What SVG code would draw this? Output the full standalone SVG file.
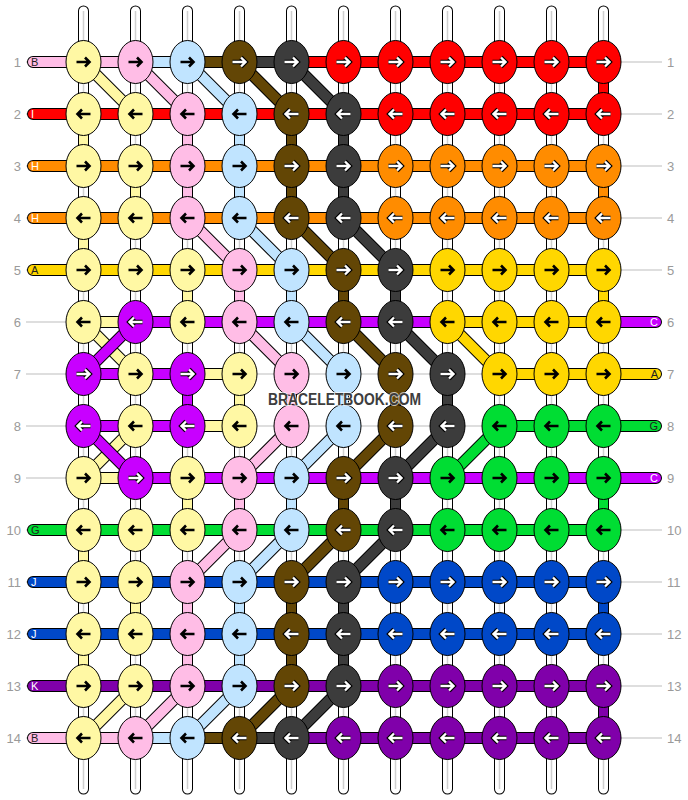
<svg xmlns="http://www.w3.org/2000/svg" width="688" height="800" viewBox="0 0 688 800">
<style>
.y{fill:#FFF8A4}.p{fill:#FFBDE6}.b{fill:#C0E4FF}.br{fill:#634605}.g{fill:#3C3C3C}.r{fill:#FF0000}.o{fill:#FF8C00}.d{fill:#FFD700}.u{fill:#C800FF}.n{fill:#00DD33}.l{fill:#0048C8}.k{fill:#8000AA}
.sy{stroke:#FFF8A4}.sp{stroke:#FFBDE6}.sb{stroke:#C0E4FF}.sbr{stroke:#634605}.sg{stroke:#3C3C3C}.sr{stroke:#FF0000}.so{stroke:#FF8C00}.sd{stroke:#FFD700}.su{stroke:#C800FF}.sn{stroke:#00DD33}.sl{stroke:#0048C8}.sk{stroke:#8000AA}
.ol{stroke:#000}
.h{stroke-width:10;stroke-linecap:round}.ho{stroke-width:12;stroke-linecap:round}
.v{stroke-width:9}.vo{stroke-width:11}
.dg{stroke-width:10}.dgo{stroke-width:12}
.num{font-family:"Liberation Sans",Arial,sans-serif;font-size:13px;fill:#9a9a9a}
.lt{font-family:"Liberation Sans",Arial,sans-serif;font-size:11px}
.dk{fill:#222}.wt{fill:#fff}
</style>
<defs>
<ellipse id="e" rx="17.5" ry="21.5" stroke="#000" stroke-width="1"/>
<path id="a" d="M-7,0H5.5M1.5,-4.5L6,0L1.5,4.5" fill="none"/>
<g id="rb"><use href="#a" stroke="#000" stroke-width="2.6"/></g>
<g id="lb"><use href="#rb" transform="scale(-1,1)"/></g>
<g id="rw"><use href="#a" stroke="#000" stroke-width="4.6"/><use href="#a" stroke="#fff" stroke-width="2.4"/></g>
<g id="lw"><use href="#rw" transform="scale(-1,1)"/></g>
<path id="cols" d="M83.5,11V789M135.5,11V789M187.5,11V789M239.5,11V789M291.5,11V789M343.5,11V789M395.5,11V789M447.5,11V789M499.5,11V789M551.5,11V789M603.5,11V789"/>
</defs>
<rect width="688" height="800" fill="#fff"/>
<g id="guides" stroke="#bdbdbd" stroke-width="1" fill="none">
<path d="M26,62H662M26,114H662M26,166H662M26,218H662M26,270H662M26,322H662M26,374H662M26,426H662M26,478H662M26,530H662M26,582H662M26,634H662M26,686H662M26,738H662"/>
</g>
<g id="strings" fill="none">
<use href="#cols" stroke="#000" stroke-width="11" stroke-linecap="round"/>
<use href="#cols" stroke="#fff" stroke-width="9" stroke-linecap="round"/>
<use href="#cols" stroke="#cfcfcf" stroke-width="1.5"/>
<path class="ol vo" d="M603.5,62V114M83.5,114V166M135.5,166V218M83.5,218V270M187.5,270V322M239.5,374V426M187.5,478V530M83.5,530V582M135.5,582V634M83.5,634V686M187.5,114V218M239.5,270V322M291.5,374V426M239.5,478V530M187.5,582V686M239.5,114V218M291.5,270V322M343.5,374V426M291.5,478V530M239.5,582V686M291.5,114V218M343.5,270V322M395.5,374V426M343.5,478V530M291.5,582V686M343.5,114V218M395.5,270V322M447.5,374V426M395.5,478V530M343.5,582V686M603.5,166V218M603.5,270V322M187.5,374V426M603.5,478V530M603.5,582V634M603.5,686V738"/>
<path class="sr v" d="M603.5,62V114"/>
<path class="sy v" d="M83.5,114V166M135.5,166V218M83.5,218V270M187.5,270V322M239.5,374V426M187.5,478V530M83.5,530V582M135.5,582V634M83.5,634V686"/>
<path class="sp v" d="M187.5,114V218M239.5,270V322M291.5,374V426M239.5,478V530M187.5,582V686"/>
<path class="sb v" d="M239.5,114V218M291.5,270V322M343.5,374V426M291.5,478V530M239.5,582V686"/>
<path class="sbr v" d="M291.5,114V218M343.5,270V322M395.5,374V426M343.5,478V530M291.5,582V686"/>
<path class="sg v" d="M343.5,114V218M395.5,270V322M447.5,374V426M395.5,478V530M343.5,582V686"/>
<path class="so v" d="M603.5,166V218"/>
<path class="sd v" d="M603.5,270V322"/>
<path class="su v" d="M187.5,374V426"/>
<path class="sn v" d="M603.5,478V530"/>
<path class="sl v" d="M603.5,582V634"/>
<path class="sk v" d="M603.5,686V738"/>
<path class="ol ho" d="M33,62H603.5M33,114H603.5M33,166H603.5M33,218H603.5M33,270H603.5M83.5,322H656M83.5,374H239.5M499.5,374H656M83.5,426H239.5M499.5,426H656M83.5,478H656M33,530H603.5M33,582H603.5M33,634H603.5M33,686H603.5M33,738H603.5"/>
<path class="sp h" d="M33,62H135.5M33,738H135.5"/>
<path class="sb h" d="M135.5,62H187.5M135.5,738H187.5"/>
<path class="sbr h" d="M187.5,62H239.5M187.5,738H239.5"/>
<path class="sg h" d="M239.5,62H291.5M239.5,738H291.5"/>
<path class="sr h" d="M291.5,62H603.5M33,114H603.5"/>
<path class="so h" d="M33,166H603.5M33,218H603.5"/>
<path class="sd h" d="M33,270H603.5M447.5,322H603.5M499.5,374H656"/>
<path class="sy h" d="M83.5,322H135.5M187.5,374H239.5M187.5,426H239.5M83.5,478H135.5"/>
<path class="su h" d="M135.5,322H447.5M603.5,322H656M83.5,374H187.5M83.5,426H187.5M135.5,478H656"/>
<path class="sn h" d="M499.5,426H656M33,530H603.5"/>
<path class="sl h" d="M33,582H603.5M33,634H603.5"/>
<path class="sk h" d="M33,686H603.5M291.5,738H603.5"/>
<path class="ol dgo" d="M83.5,62L135.5,114M135.5,686L83.5,738M135.5,62L187.5,114M187.5,218L239.5,270M239.5,322L291.5,374M291.5,426L239.5,478M239.5,530L187.5,582M187.5,686L135.5,738M187.5,62L239.5,114M239.5,218L291.5,270M291.5,322L343.5,374M343.5,426L291.5,478M291.5,530L239.5,582M239.5,686L187.5,738M239.5,62L291.5,114M291.5,218L343.5,270M343.5,322L395.5,374M395.5,426L343.5,478M343.5,530L291.5,582M291.5,686L239.5,738M291.5,62L343.5,114M343.5,218L395.5,270M395.5,322L447.5,374M447.5,426L395.5,478M395.5,530L343.5,582M343.5,686L291.5,738M447.5,322L499.5,374M499.5,426L447.5,478"/>
<path class="sy dg" d="M83.5,62L135.5,114M135.5,686L83.5,738"/>
<path class="sp dg" d="M135.5,62L187.5,114M187.5,218L239.5,270M239.5,322L291.5,374M291.5,426L239.5,478M239.5,530L187.5,582M187.5,686L135.5,738"/>
<path class="sb dg" d="M187.5,62L239.5,114M239.5,218L291.5,270M291.5,322L343.5,374M343.5,426L291.5,478M291.5,530L239.5,582M239.5,686L187.5,738"/>
<path class="sbr dg" d="M239.5,62L291.5,114M291.5,218L343.5,270M343.5,322L395.5,374M395.5,426L343.5,478M343.5,530L291.5,582M291.5,686L239.5,738"/>
<path class="sg dg" d="M291.5,62L343.5,114M343.5,218L395.5,270M395.5,322L447.5,374M447.5,426L395.5,478M395.5,530L343.5,582M343.5,686L291.5,738"/>
<path class="sd dg" d="M447.5,322L499.5,374"/>
<path class="sn dg" d="M499.5,426L447.5,478"/>
<path class="ol dgo" d="M83.5,322L135.5,374M135.5,426L83.5,478"/>
<path class="sy dg" d="M83.5,322L135.5,374M135.5,426L83.5,478"/>
<path class="ol dgo" d="M135.5,322L83.5,374M83.5,426L135.5,478"/>
<path class="su dg" d="M135.5,322L83.5,374M83.5,426L135.5,478"/>
</g>
<g id="knots">
<g id="k1-1" transform="translate(83.5,62)"><use href="#e" class="y"/><use href="#rb"/></g>
<g id="k1-2" transform="translate(135.5,62)"><use href="#e" class="p"/><use href="#rb"/></g>
<g id="k1-3" transform="translate(187.5,62)"><use href="#e" class="b"/><use href="#rb"/></g>
<g id="k1-4" transform="translate(239.5,62)"><use href="#e" class="br"/><use href="#rw"/></g>
<g id="k1-5" transform="translate(291.5,62)"><use href="#e" class="g"/><use href="#rw"/></g>
<g id="k1-6" transform="translate(343.5,62)"><use href="#e" class="r"/><use href="#rw"/></g>
<g id="k1-7" transform="translate(395.5,62)"><use href="#e" class="r"/><use href="#rw"/></g>
<g id="k1-8" transform="translate(447.5,62)"><use href="#e" class="r"/><use href="#rw"/></g>
<g id="k1-9" transform="translate(499.5,62)"><use href="#e" class="r"/><use href="#rw"/></g>
<g id="k1-10" transform="translate(551.5,62)"><use href="#e" class="r"/><use href="#rw"/></g>
<g id="k1-11" transform="translate(603.5,62)"><use href="#e" class="r"/><use href="#rw"/></g>
<g id="k2-1" transform="translate(83.5,114)"><use href="#e" class="y"/><use href="#lb"/></g>
<g id="k2-2" transform="translate(135.5,114)"><use href="#e" class="y"/><use href="#lb"/></g>
<g id="k2-3" transform="translate(187.5,114)"><use href="#e" class="p"/><use href="#lb"/></g>
<g id="k2-4" transform="translate(239.5,114)"><use href="#e" class="b"/><use href="#lb"/></g>
<g id="k2-5" transform="translate(291.5,114)"><use href="#e" class="br"/><use href="#lw"/></g>
<g id="k2-6" transform="translate(343.5,114)"><use href="#e" class="g"/><use href="#lw"/></g>
<g id="k2-7" transform="translate(395.5,114)"><use href="#e" class="r"/><use href="#lw"/></g>
<g id="k2-8" transform="translate(447.5,114)"><use href="#e" class="r"/><use href="#lw"/></g>
<g id="k2-9" transform="translate(499.5,114)"><use href="#e" class="r"/><use href="#lw"/></g>
<g id="k2-10" transform="translate(551.5,114)"><use href="#e" class="r"/><use href="#lw"/></g>
<g id="k2-11" transform="translate(603.5,114)"><use href="#e" class="r"/><use href="#lw"/></g>
<g id="k3-1" transform="translate(83.5,166)"><use href="#e" class="y"/><use href="#rb"/></g>
<g id="k3-2" transform="translate(135.5,166)"><use href="#e" class="y"/><use href="#rb"/></g>
<g id="k3-3" transform="translate(187.5,166)"><use href="#e" class="p"/><use href="#rb"/></g>
<g id="k3-4" transform="translate(239.5,166)"><use href="#e" class="b"/><use href="#rb"/></g>
<g id="k3-5" transform="translate(291.5,166)"><use href="#e" class="br"/><use href="#rw"/></g>
<g id="k3-6" transform="translate(343.5,166)"><use href="#e" class="g"/><use href="#rw"/></g>
<g id="k3-7" transform="translate(395.5,166)"><use href="#e" class="o"/><use href="#rw"/></g>
<g id="k3-8" transform="translate(447.5,166)"><use href="#e" class="o"/><use href="#rw"/></g>
<g id="k3-9" transform="translate(499.5,166)"><use href="#e" class="o"/><use href="#rw"/></g>
<g id="k3-10" transform="translate(551.5,166)"><use href="#e" class="o"/><use href="#rw"/></g>
<g id="k3-11" transform="translate(603.5,166)"><use href="#e" class="o"/><use href="#rw"/></g>
<g id="k4-1" transform="translate(83.5,218)"><use href="#e" class="y"/><use href="#lb"/></g>
<g id="k4-2" transform="translate(135.5,218)"><use href="#e" class="y"/><use href="#lb"/></g>
<g id="k4-3" transform="translate(187.5,218)"><use href="#e" class="p"/><use href="#lb"/></g>
<g id="k4-4" transform="translate(239.5,218)"><use href="#e" class="b"/><use href="#lb"/></g>
<g id="k4-5" transform="translate(291.5,218)"><use href="#e" class="br"/><use href="#lw"/></g>
<g id="k4-6" transform="translate(343.5,218)"><use href="#e" class="g"/><use href="#lw"/></g>
<g id="k4-7" transform="translate(395.5,218)"><use href="#e" class="o"/><use href="#lw"/></g>
<g id="k4-8" transform="translate(447.5,218)"><use href="#e" class="o"/><use href="#lw"/></g>
<g id="k4-9" transform="translate(499.5,218)"><use href="#e" class="o"/><use href="#lw"/></g>
<g id="k4-10" transform="translate(551.5,218)"><use href="#e" class="o"/><use href="#lw"/></g>
<g id="k4-11" transform="translate(603.5,218)"><use href="#e" class="o"/><use href="#lw"/></g>
<g id="k5-1" transform="translate(83.5,270)"><use href="#e" class="y"/><use href="#rb"/></g>
<g id="k5-2" transform="translate(135.5,270)"><use href="#e" class="y"/><use href="#rb"/></g>
<g id="k5-3" transform="translate(187.5,270)"><use href="#e" class="y"/><use href="#rb"/></g>
<g id="k5-4" transform="translate(239.5,270)"><use href="#e" class="p"/><use href="#rb"/></g>
<g id="k5-5" transform="translate(291.5,270)"><use href="#e" class="b"/><use href="#rb"/></g>
<g id="k5-6" transform="translate(343.5,270)"><use href="#e" class="br"/><use href="#rw"/></g>
<g id="k5-7" transform="translate(395.5,270)"><use href="#e" class="g"/><use href="#rw"/></g>
<g id="k5-8" transform="translate(447.5,270)"><use href="#e" class="d"/><use href="#rb"/></g>
<g id="k5-9" transform="translate(499.5,270)"><use href="#e" class="d"/><use href="#rb"/></g>
<g id="k5-10" transform="translate(551.5,270)"><use href="#e" class="d"/><use href="#rb"/></g>
<g id="k5-11" transform="translate(603.5,270)"><use href="#e" class="d"/><use href="#rb"/></g>
<g id="k6-1" transform="translate(83.5,322)"><use href="#e" class="y"/><use href="#lb"/></g>
<g id="k6-2" transform="translate(135.5,322)"><use href="#e" class="u"/><use href="#lw"/></g>
<g id="k6-3" transform="translate(187.5,322)"><use href="#e" class="y"/><use href="#lb"/></g>
<g id="k6-4" transform="translate(239.5,322)"><use href="#e" class="p"/><use href="#lb"/></g>
<g id="k6-5" transform="translate(291.5,322)"><use href="#e" class="b"/><use href="#lb"/></g>
<g id="k6-6" transform="translate(343.5,322)"><use href="#e" class="br"/><use href="#lw"/></g>
<g id="k6-7" transform="translate(395.5,322)"><use href="#e" class="g"/><use href="#lw"/></g>
<g id="k6-8" transform="translate(447.5,322)"><use href="#e" class="d"/><use href="#lb"/></g>
<g id="k6-9" transform="translate(499.5,322)"><use href="#e" class="d"/><use href="#lb"/></g>
<g id="k6-10" transform="translate(551.5,322)"><use href="#e" class="d"/><use href="#lb"/></g>
<g id="k6-11" transform="translate(603.5,322)"><use href="#e" class="d"/><use href="#lb"/></g>
<g id="k7-1" transform="translate(83.5,374)"><use href="#e" class="u"/><use href="#rw"/></g>
<g id="k7-2" transform="translate(135.5,374)"><use href="#e" class="y"/><use href="#rb"/></g>
<g id="k7-3" transform="translate(187.5,374)"><use href="#e" class="u"/><use href="#rw"/></g>
<g id="k7-4" transform="translate(239.5,374)"><use href="#e" class="y"/><use href="#rb"/></g>
<g id="k7-5" transform="translate(291.5,374)"><use href="#e" class="p"/><use href="#rb"/></g>
<g id="k7-6" transform="translate(343.5,374)"><use href="#e" class="b"/><use href="#rb"/></g>
<g id="k7-7" transform="translate(395.5,374)"><use href="#e" class="br"/><use href="#rw"/></g>
<g id="k7-8" transform="translate(447.5,374)"><use href="#e" class="g"/><use href="#rw"/></g>
<g id="k7-9" transform="translate(499.5,374)"><use href="#e" class="d"/><use href="#rb"/></g>
<g id="k7-10" transform="translate(551.5,374)"><use href="#e" class="d"/><use href="#rb"/></g>
<g id="k7-11" transform="translate(603.5,374)"><use href="#e" class="d"/><use href="#rb"/></g>
<g id="k8-1" transform="translate(83.5,426)"><use href="#e" class="u"/><use href="#lw"/></g>
<g id="k8-2" transform="translate(135.5,426)"><use href="#e" class="y"/><use href="#lb"/></g>
<g id="k8-3" transform="translate(187.5,426)"><use href="#e" class="u"/><use href="#lw"/></g>
<g id="k8-4" transform="translate(239.5,426)"><use href="#e" class="y"/><use href="#lb"/></g>
<g id="k8-5" transform="translate(291.5,426)"><use href="#e" class="p"/><use href="#lb"/></g>
<g id="k8-6" transform="translate(343.5,426)"><use href="#e" class="b"/><use href="#lb"/></g>
<g id="k8-7" transform="translate(395.5,426)"><use href="#e" class="br"/><use href="#lw"/></g>
<g id="k8-8" transform="translate(447.5,426)"><use href="#e" class="g"/><use href="#lw"/></g>
<g id="k8-9" transform="translate(499.5,426)"><use href="#e" class="n"/><use href="#lb"/></g>
<g id="k8-10" transform="translate(551.5,426)"><use href="#e" class="n"/><use href="#lb"/></g>
<g id="k8-11" transform="translate(603.5,426)"><use href="#e" class="n"/><use href="#lb"/></g>
<g id="k9-1" transform="translate(83.5,478)"><use href="#e" class="y"/><use href="#rb"/></g>
<g id="k9-2" transform="translate(135.5,478)"><use href="#e" class="u"/><use href="#rw"/></g>
<g id="k9-3" transform="translate(187.5,478)"><use href="#e" class="y"/><use href="#rb"/></g>
<g id="k9-4" transform="translate(239.5,478)"><use href="#e" class="p"/><use href="#rb"/></g>
<g id="k9-5" transform="translate(291.5,478)"><use href="#e" class="b"/><use href="#rb"/></g>
<g id="k9-6" transform="translate(343.5,478)"><use href="#e" class="br"/><use href="#rw"/></g>
<g id="k9-7" transform="translate(395.5,478)"><use href="#e" class="g"/><use href="#rw"/></g>
<g id="k9-8" transform="translate(447.5,478)"><use href="#e" class="n"/><use href="#rb"/></g>
<g id="k9-9" transform="translate(499.5,478)"><use href="#e" class="n"/><use href="#rb"/></g>
<g id="k9-10" transform="translate(551.5,478)"><use href="#e" class="n"/><use href="#rb"/></g>
<g id="k9-11" transform="translate(603.5,478)"><use href="#e" class="n"/><use href="#rb"/></g>
<g id="k10-1" transform="translate(83.5,530)"><use href="#e" class="y"/><use href="#lb"/></g>
<g id="k10-2" transform="translate(135.5,530)"><use href="#e" class="y"/><use href="#lb"/></g>
<g id="k10-3" transform="translate(187.5,530)"><use href="#e" class="y"/><use href="#lb"/></g>
<g id="k10-4" transform="translate(239.5,530)"><use href="#e" class="p"/><use href="#lb"/></g>
<g id="k10-5" transform="translate(291.5,530)"><use href="#e" class="b"/><use href="#lb"/></g>
<g id="k10-6" transform="translate(343.5,530)"><use href="#e" class="br"/><use href="#lw"/></g>
<g id="k10-7" transform="translate(395.5,530)"><use href="#e" class="g"/><use href="#lw"/></g>
<g id="k10-8" transform="translate(447.5,530)"><use href="#e" class="n"/><use href="#lb"/></g>
<g id="k10-9" transform="translate(499.5,530)"><use href="#e" class="n"/><use href="#lb"/></g>
<g id="k10-10" transform="translate(551.5,530)"><use href="#e" class="n"/><use href="#lb"/></g>
<g id="k10-11" transform="translate(603.5,530)"><use href="#e" class="n"/><use href="#lb"/></g>
<g id="k11-1" transform="translate(83.5,582)"><use href="#e" class="y"/><use href="#rb"/></g>
<g id="k11-2" transform="translate(135.5,582)"><use href="#e" class="y"/><use href="#rb"/></g>
<g id="k11-3" transform="translate(187.5,582)"><use href="#e" class="p"/><use href="#rb"/></g>
<g id="k11-4" transform="translate(239.5,582)"><use href="#e" class="b"/><use href="#rb"/></g>
<g id="k11-5" transform="translate(291.5,582)"><use href="#e" class="br"/><use href="#rw"/></g>
<g id="k11-6" transform="translate(343.5,582)"><use href="#e" class="g"/><use href="#rw"/></g>
<g id="k11-7" transform="translate(395.5,582)"><use href="#e" class="l"/><use href="#rw"/></g>
<g id="k11-8" transform="translate(447.5,582)"><use href="#e" class="l"/><use href="#rw"/></g>
<g id="k11-9" transform="translate(499.5,582)"><use href="#e" class="l"/><use href="#rw"/></g>
<g id="k11-10" transform="translate(551.5,582)"><use href="#e" class="l"/><use href="#rw"/></g>
<g id="k11-11" transform="translate(603.5,582)"><use href="#e" class="l"/><use href="#rw"/></g>
<g id="k12-1" transform="translate(83.5,634)"><use href="#e" class="y"/><use href="#lb"/></g>
<g id="k12-2" transform="translate(135.5,634)"><use href="#e" class="y"/><use href="#lb"/></g>
<g id="k12-3" transform="translate(187.5,634)"><use href="#e" class="p"/><use href="#lb"/></g>
<g id="k12-4" transform="translate(239.5,634)"><use href="#e" class="b"/><use href="#lb"/></g>
<g id="k12-5" transform="translate(291.5,634)"><use href="#e" class="br"/><use href="#lw"/></g>
<g id="k12-6" transform="translate(343.5,634)"><use href="#e" class="g"/><use href="#lw"/></g>
<g id="k12-7" transform="translate(395.5,634)"><use href="#e" class="l"/><use href="#lw"/></g>
<g id="k12-8" transform="translate(447.5,634)"><use href="#e" class="l"/><use href="#lw"/></g>
<g id="k12-9" transform="translate(499.5,634)"><use href="#e" class="l"/><use href="#lw"/></g>
<g id="k12-10" transform="translate(551.5,634)"><use href="#e" class="l"/><use href="#lw"/></g>
<g id="k12-11" transform="translate(603.5,634)"><use href="#e" class="l"/><use href="#lw"/></g>
<g id="k13-1" transform="translate(83.5,686)"><use href="#e" class="y"/><use href="#rb"/></g>
<g id="k13-2" transform="translate(135.5,686)"><use href="#e" class="y"/><use href="#rb"/></g>
<g id="k13-3" transform="translate(187.5,686)"><use href="#e" class="p"/><use href="#rb"/></g>
<g id="k13-4" transform="translate(239.5,686)"><use href="#e" class="b"/><use href="#rb"/></g>
<g id="k13-5" transform="translate(291.5,686)"><use href="#e" class="br"/><use href="#rw"/></g>
<g id="k13-6" transform="translate(343.5,686)"><use href="#e" class="g"/><use href="#rw"/></g>
<g id="k13-7" transform="translate(395.5,686)"><use href="#e" class="k"/><use href="#rw"/></g>
<g id="k13-8" transform="translate(447.5,686)"><use href="#e" class="k"/><use href="#rw"/></g>
<g id="k13-9" transform="translate(499.5,686)"><use href="#e" class="k"/><use href="#rw"/></g>
<g id="k13-10" transform="translate(551.5,686)"><use href="#e" class="k"/><use href="#rw"/></g>
<g id="k13-11" transform="translate(603.5,686)"><use href="#e" class="k"/><use href="#rw"/></g>
<g id="k14-1" transform="translate(83.5,738)"><use href="#e" class="y"/><use href="#lb"/></g>
<g id="k14-2" transform="translate(135.5,738)"><use href="#e" class="p"/><use href="#lb"/></g>
<g id="k14-3" transform="translate(187.5,738)"><use href="#e" class="b"/><use href="#lb"/></g>
<g id="k14-4" transform="translate(239.5,738)"><use href="#e" class="br"/><use href="#lw"/></g>
<g id="k14-5" transform="translate(291.5,738)"><use href="#e" class="g"/><use href="#lw"/></g>
<g id="k14-6" transform="translate(343.5,738)"><use href="#e" class="k"/><use href="#lw"/></g>
<g id="k14-7" transform="translate(395.5,738)"><use href="#e" class="k"/><use href="#lw"/></g>
<g id="k14-8" transform="translate(447.5,738)"><use href="#e" class="k"/><use href="#lw"/></g>
<g id="k14-9" transform="translate(499.5,738)"><use href="#e" class="k"/><use href="#lw"/></g>
<g id="k14-10" transform="translate(551.5,738)"><use href="#e" class="k"/><use href="#lw"/></g>
<g id="k14-11" transform="translate(603.5,738)"><use href="#e" class="k"/><use href="#lw"/></g>
</g>
<g id="string-labels" class="lt">
<text x="31" y="66" class="dk">B</text>
<text x="31" y="118" class="wt">I</text>
<text x="31" y="170" class="wt">H</text>
<text x="31" y="222" class="wt">H</text>
<text x="31" y="274" class="dk">A</text>
<text x="658" y="326" class="wt" text-anchor="end">C</text>
<text x="658" y="378" class="dk" text-anchor="end">A</text>
<text x="658" y="430" class="dk" text-anchor="end">G</text>
<text x="658" y="482" class="wt" text-anchor="end">C</text>
<text x="31" y="534" class="dk">G</text>
<text x="31" y="586" class="wt">J</text>
<text x="31" y="638" class="wt">J</text>
<text x="31" y="690" class="wt">K</text>
<text x="31" y="742" class="dk">B</text>
</g>
<g id="row-numbers" class="num">
<g text-anchor="end">
<text x="21" y="67">1</text><text x="21" y="119">2</text><text x="21" y="171">3</text><text x="21" y="223">4</text><text x="21" y="275">5</text><text x="21" y="327">6</text><text x="21" y="379">7</text><text x="21" y="431">8</text><text x="21" y="483">9</text><text x="21" y="535">10</text><text x="21" y="587">11</text><text x="21" y="639">12</text><text x="21" y="691">13</text><text x="21" y="743">14</text>
</g>
<g>
<text x="667" y="67">1</text><text x="667" y="119">2</text><text x="667" y="171">3</text><text x="667" y="223">4</text><text x="667" y="275">5</text><text x="667" y="327">6</text><text x="667" y="379">7</text><text x="667" y="431">8</text><text x="667" y="483">9</text><text x="667" y="535">10</text><text x="667" y="587">11</text><text x="667" y="639">12</text><text x="667" y="691">13</text><text x="667" y="743">14</text>
</g>
</g>
<text id="watermark" x="344.5" y="405" text-anchor="middle" font-family="'Liberation Sans',Arial,sans-serif" font-weight="bold" font-size="16" textLength="153" lengthAdjust="spacingAndGlyphs" fill="#3d3d3d" stroke="#ffffff" stroke-width="2" stroke-opacity="0.7" paint-order="stroke">BRACELETBOOK.COM</text>
</svg>
